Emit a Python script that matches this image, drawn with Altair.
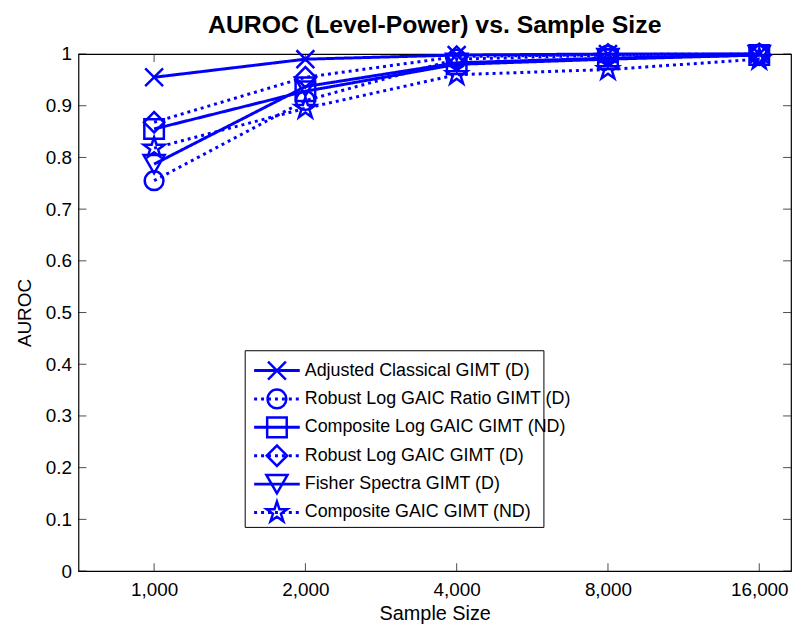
import json
import altair as alt
import pandas as pd

# ---------------- data ----------------
sample_sizes = [1000, 2000, 4000, 8000, 16000]
size_labels = ["1,000", "2,000", "4,000", "8,000", "16,000"]
y_tick_values = [0, 0.1, 0.2, 0.3, 0.4, 0.5, 0.6, 0.7, 0.8, 0.9, 1]

series_names = [
    "Adjusted Classical GIMT (D)",
    "Robust Log GAIC Ratio GIMT (D)",
    "Composite Log GAIC GIMT (ND)",
    "Robust Log GAIC GIMT (D)",
    "Fisher Spectra GIMT (D)",
    "Composite GAIC GIMT (ND)",
]
line_styles = ["solid", "dotted", "solid", "dotted", "solid", "dotted"]

adjusted_classical = [0.955, 0.990, 0.998, 1.000, 1.000]
robust_log_gaic_ratio = [0.755, 0.910, 0.990, 0.998, 1.000]
composite_log_gaic = [0.855, 0.928, 0.980, 0.990, 0.998]
robust_log_gaic = [0.868, 0.955, 0.995, 0.999, 1.000]
fisher_spectra = [0.787, 0.937, 0.983, 0.992, 0.998]
composite_gaic = [0.818, 0.895, 0.960, 0.970, 0.990]

series_values = [adjusted_classical, robust_log_gaic_ratio, composite_log_gaic,
                 robust_log_gaic, fisher_spectra, composite_gaic]

rows = []
for name, style, vals in zip(series_names, line_styles, series_values):
    for i, (n, v) in enumerate(zip(sample_sizes, vals)):
        rows.append({"series": name, "style": style, "pos": i + 1, "n": n, "auroc": v})
df = pd.DataFrame(rows)

legend_df = pd.DataFrame({"series": series_names, "style": line_styles,
                          "row": list(range(len(series_names)))})
xtick_df = pd.DataFrame({"pos": list(range(1, len(sample_sizes) + 1))})
ytick_df = pd.DataFrame({"auroc": y_tick_values})
box_df = pd.DataFrame({"k": [0]})

# ---------------- styling ----------------
BLUE = "#0000ff"
FONT = "Liberation Sans"
W, H = 718, 521

X_PATH = "M-1,-1L1,1M-1,1L1,-1"
STAR_PATH = ("M0,-1L0.2245,-0.309L0.951,-0.309L0.363,0.118L0.588,0.809L0,0.382"
             "L-0.588,0.809L-0.363,0.118L-0.951,-0.309L-0.2245,-0.309Z")

shape_scale = alt.Scale(domain=series_names,
                        range=[X_PATH, "circle", "square", "diamond", "triangle-down", STAR_PATH])
size_scale = alt.Scale(domain=series_names, range=[324, 484, 400, 576, 784, 600])
dash_scale = alt.Scale(domain=["solid", "dotted"], range=[[1, 0], [3, 4]])

label_expr = json.dumps(size_labels) + "[datum.value - 1]"

x_enc = alt.X("pos:Q",
              scale=alt.Scale(domain=[0.5, 5.21], nice=False, zero=False),
              axis=alt.Axis(values=list(range(1, len(sample_sizes) + 1)), labelExpr=label_expr,
                            title="Sample Size", ticks=False, domain=False, grid=False,
                            labelFontSize=19, labelPadding=10, labelFont=FONT, labelColor="black",
                            titleFontSize=20, titleFont=FONT, titleFontWeight="normal",
                            titleColor="black", titlePadding=4))
y_enc = alt.Y("auroc:Q",
              scale=alt.Scale(domain=[0, 1], nice=False, zero=False),
              axis=alt.Axis(values=y_tick_values, format="~g", title="AUROC",
                            ticks=False, domain=False, grid=False,
                            labelFontSize=19, labelPadding=7, labelFont=FONT, labelColor="black",
                            titleFontSize=19, titleFont=FONT, titleFontWeight="normal",
                            titleColor="black", titlePadding=11))

lines = alt.Chart(df).mark_line(color=BLUE, strokeWidth=3).encode(
    x=x_enc, y=y_enc,
    strokeDash=alt.StrokeDash("style:N", scale=dash_scale, legend=None),
    detail="series:N",
)
points = alt.Chart(df).mark_point(filled=False, color=BLUE, strokeWidth=2.5, opacity=1).encode(
    x=x_enc, y=y_enc,
    shape=alt.Shape("series:N", scale=shape_scale, legend=None),
    size=alt.Size("series:N", scale=size_scale, legend=None),
)

tick_len = 8
ytick_left = alt.Chart(ytick_df).mark_tick(orient="horizontal", thickness=1, color="black").encode(
    y=y_enc, x=alt.value(tick_len / 2), size=alt.value(tick_len))
ytick_right = alt.Chart(ytick_df).mark_tick(orient="horizontal", thickness=1, color="black").encode(
    y=y_enc, x=alt.value(W - tick_len / 2), size=alt.value(tick_len))
xtick_bottom = alt.Chart(xtick_df).mark_tick(orient="vertical", thickness=1, color="black").encode(
    x=x_enc, y=alt.value(H - tick_len / 2), size=alt.value(tick_len))
xtick_top = alt.Chart(xtick_df).mark_tick(orient="vertical", thickness=1, color="black").encode(
    x=x_enc, y=alt.value(tick_len / 2), size=alt.value(tick_len))

main = alt.layer(ytick_left, ytick_right, xtick_bottom, xtick_top, lines, points)

# ---------------- legend ----------------
row_y = alt.Y("row:Q", scale=alt.Scale(domain=[0, 5], range=[319, 462]), axis=None)
leg_box = alt.Chart(box_df).mark_rect(fill="white", stroke="black", strokeWidth=1).encode(
    x=alt.value(168), x2=alt.value(469), y=alt.value(299), y2=alt.value(477))
leg_lines = alt.Chart(legend_df).mark_rule(color=BLUE, strokeWidth=3).encode(
    x=alt.value(177), x2=alt.value(223), y=row_y,
    strokeDash=alt.StrokeDash("style:N", scale=dash_scale, legend=None))
leg_points = alt.Chart(legend_df).mark_point(filled=False, color=BLUE, strokeWidth=2.5, opacity=1).encode(
    x=alt.value(200), y=row_y,
    shape=alt.Shape("series:N", scale=shape_scale, legend=None),
    size=alt.Size("series:N", scale=size_scale, legend=None))
leg_text = alt.Chart(legend_df).mark_text(align="left", baseline="middle", fontSize=18,
                                          font=FONT, color="black").encode(
    x=alt.value(228), y=row_y, text="series:N")
legend = alt.layer(leg_box, leg_lines, leg_points, leg_text)

chart = alt.layer(main, legend).resolve_scale(y="independent").properties(
    width=W, height=H,
    autosize=alt.AutoSizeParams(type="none"),
    padding={"left": 71, "top": 44, "right": 3, "bottom": 54},
    title=alt.Title("AUROC (Level-Power) vs. Sample Size", fontSize=25, fontWeight="bold",
                    font=FONT, color="black", anchor="middle", offset=1),
).configure_view(stroke="black", strokeWidth=1.2)

chart.save("out.html", embed_options={"renderer": "svg", "actions": False})
